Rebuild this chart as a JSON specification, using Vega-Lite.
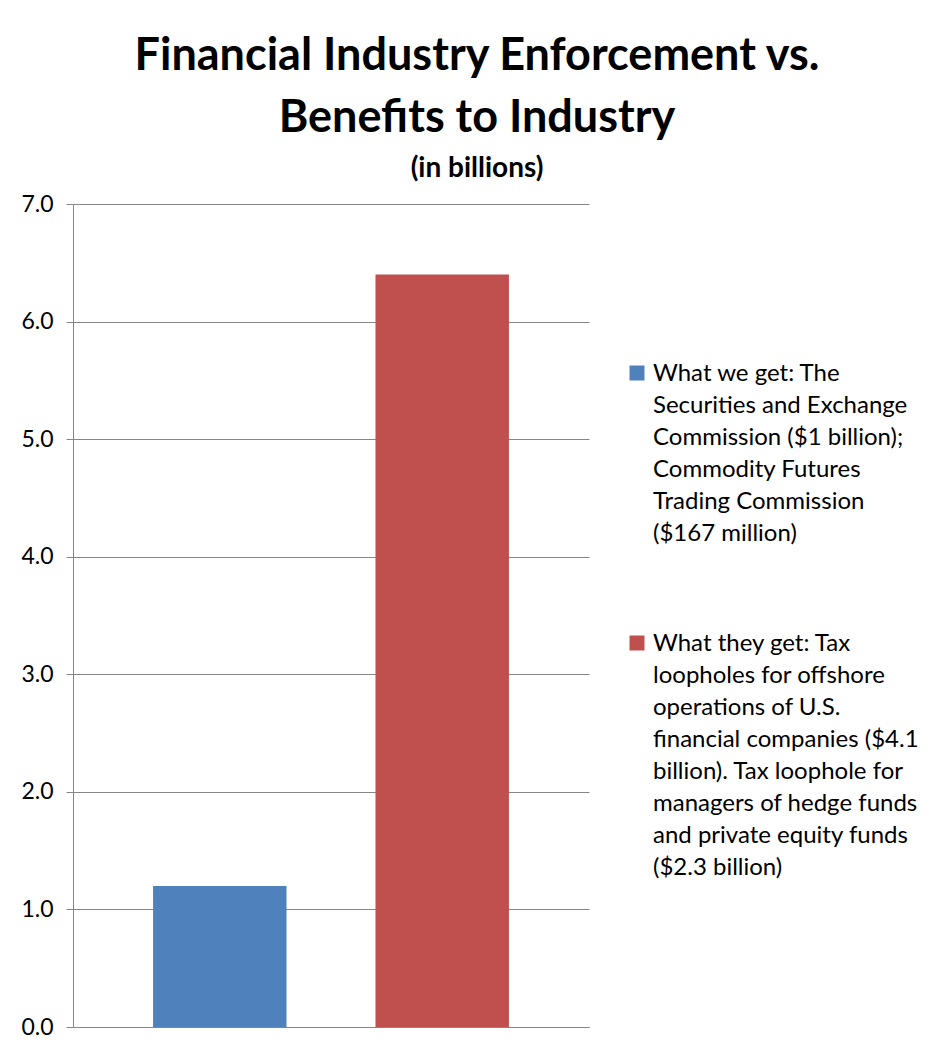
{
  "$schema": "https://vega.github.io/schema/vega-lite/v6.json",
  "autosize": {"type": "none"},
  "width": 516,
  "height": 823,
  "padding": {"left": 73, "top": 204, "right": 351, "bottom": 28},
  "background": "white",
  "title": {
    "text": ["Financial Industry Enforcement vs.", "Benefits to Industry"],
    "subtitle": "(in billions)",
    "anchor": "middle",
    "frame": "group",
    "dx": 146,
    "offset": 10,
    "font": "Lato",
    "fontSize": 45,
    "fontWeight": "bold",
    "color": "black",
    "lineHeight": 62,
    "subtitleFont": "Lato",
    "subtitleFontSize": 28,
    "subtitleFontWeight": "bold",
    "subtitleColor": "black",
    "subtitlePadding": 14
  },
  "data": {
    "values": [
      {"series": "What we get: The Securities and Exchange Commission ($1 billion); Commodity Futures Trading Commission ($167 million)", "value": 1.2},
      {"series": "What they get: Tax loopholes for offshore operations of U.S. financial companies ($4.1 billion). Tax loophole for managers of hedge funds and private equity funds ($2.3 billion)", "value": 6.4}
    ]
  },
  "mark": {"type": "bar"},
  "encoding": {
    "x": {
      "field": "series",
      "type": "nominal",
      "sort": null,
      "scale": {"paddingInner": 0.4, "paddingOuter": 0.36},
      "axis": {"title": null, "labels": false, "ticks": false, "domain": true, "domainColor": "#868686", "domainWidth": 1, "grid": false}
    },
    "y": {
      "field": "value",
      "type": "quantitative",
      "scale": {"domain": [0, 7], "nice": false},
      "axis": {
        "title": null,
        "values": [0, 1, 2, 3, 4, 5, 6, 7],
        "format": ".1f",
        "labelFont": "Lato",
        "labelFontSize": 23,
        "labelColor": "black",
        "labelPadding": 13,
        "tickSize": 7,
        "tickColor": "#868686",
        "domainColor": "#868686",
        "gridColor": "#868686",
        "grid": true
      }
    },
    "color": {
      "field": "series",
      "type": "nominal",
      "scale": {
        "domain": [
          "What we get: The Securities and Exchange Commission ($1 billion); Commodity Futures Trading Commission ($167 million)",
          "What they get: Tax loopholes for offshore operations of U.S. financial companies ($4.1 billion). Tax loophole for managers of hedge funds and private equity funds ($2.3 billion)"
        ],
        "range": ["#4F81BD", "#C0504D"]
      },
      "legend": {
        "title": null,
        "orient": "none",
        "legendX": 552,
        "legendY": 157,
        "padding": 0,
        "symbolType": "square",
        "symbolSize": 225,
        "symbolStrokeWidth": 0,
        "labelFont": "Lato",
        "labelFontSize": 24,
        "labelColor": "black",
        "labelLimit": 400,
        "labelOffset": 4,
        "labelBaseline": "top",
        "rowPadding": 85,
        "encoding": {"labels": {"lineHeight": {"value": 32}, "dy": {"value": -11}}},
        "labelExpr": "indexof(datum.label, 'What we get') == 0 ? ['What we get: The', 'Securities and Exchange', 'Commission ($1 billion);', 'Commodity Futures', 'Trading Commission', '($167 million)'] : ['What they get: Tax', 'loopholes for offshore', 'operations of U.S.', 'financial companies ($4.1', 'billion). Tax loophole for', 'managers of hedge funds', 'and private equity funds', '($2.3 billion)']"
      }
    }
  },
  "config": {
    "view": {"stroke": null}
  }
}
